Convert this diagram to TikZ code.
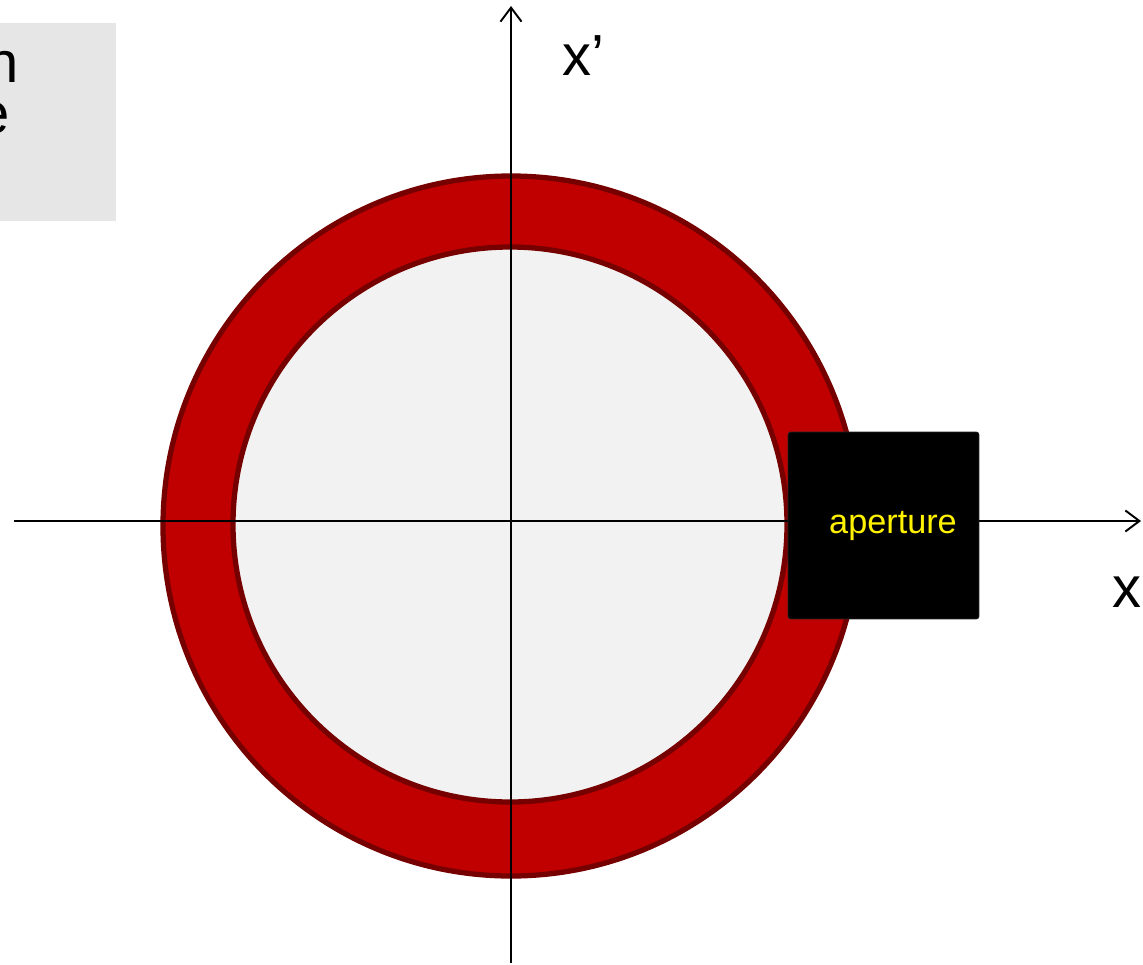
\documentclass[tikz,border=0pt]{standalone}
\usepackage{fontspec}
\setmainfont{Liberation Sans}
\usetikzlibrary{arrows.meta,positioning}
\definecolor{ringred}{RGB}{192,0,0}
\definecolor{ringedge}{RGB}{118,0,0}
\definecolor{innergray}{RGB}{242,242,242}
\definecolor{boxgray}{RGB}{230,230,230}
\tikzset{
    % axes with open barb tips
    axisarrow/.style={
        line width=1.1pt,
        black,
        ->,
        >={Straight Barb[length=8pt, width=12pt]}
    },
    ringdisc/.style={line width=3pt, draw=ringedge, fill=ringred},
    innerdisc/.style={line width=3pt, draw=ringedge, fill=innergray},
    apertbox/.style={
        fill=black, draw=black!85, rounded corners=1.5pt,
        minimum width=3.82cm, minimum height=3.74cm, inner sep=0pt
    },
    axislabel/.style={font=\fontsize{33}{38}\selectfont, inner sep=0pt},
    apertlabel/.style={font=\fontsize{19.5}{22}\selectfont, text=yellow, inner sep=0pt}
}

\begin{document}
\begin{tikzpicture}[x=0.02cm,y=-0.02cm]
    \useasboundingbox (0,0) rectangle (1143,964);

    % ===================== grey note (cut off at the left) =====================
    \fill[boxgray] (-30,23) rectangle (116,221);
    \node[axislabel, anchor=base east] (noteA) at (19,82) {n};
    \node[axislabel, anchor=base east] (noteB) at (10,133) {e};

    % ===================== ring =====================
    \draw[ringdisc] (511,526) ellipse (348 and 350);
    \draw[innerdisc] (510,524.5) ellipse (277 and 277.5);

    % ===================== axes =====================
    \path
    (14,521) coordinate (xl)
    (1141,521) coordinate (xr)
    (511,963) coordinate (yb)
    (511,6) coordinate (yt)
    ;
    \draw[axisarrow] (xl) -- (xr);
    \draw[axisarrow] (yb) -- (yt);

    \node[axislabel, anchor=base west] (xlab) at (562,75) {x’};
    \node[axislabel, anchor=base west] (ylab) at (1112,607) {x};

    % ===================== aperture =====================
    \node[apertbox] (aperture) at (883.5,525.5) {};
    \node[apertlabel, anchor=base] (apertext) at (893,533) {aperture};
\end{tikzpicture}
\end{document}
